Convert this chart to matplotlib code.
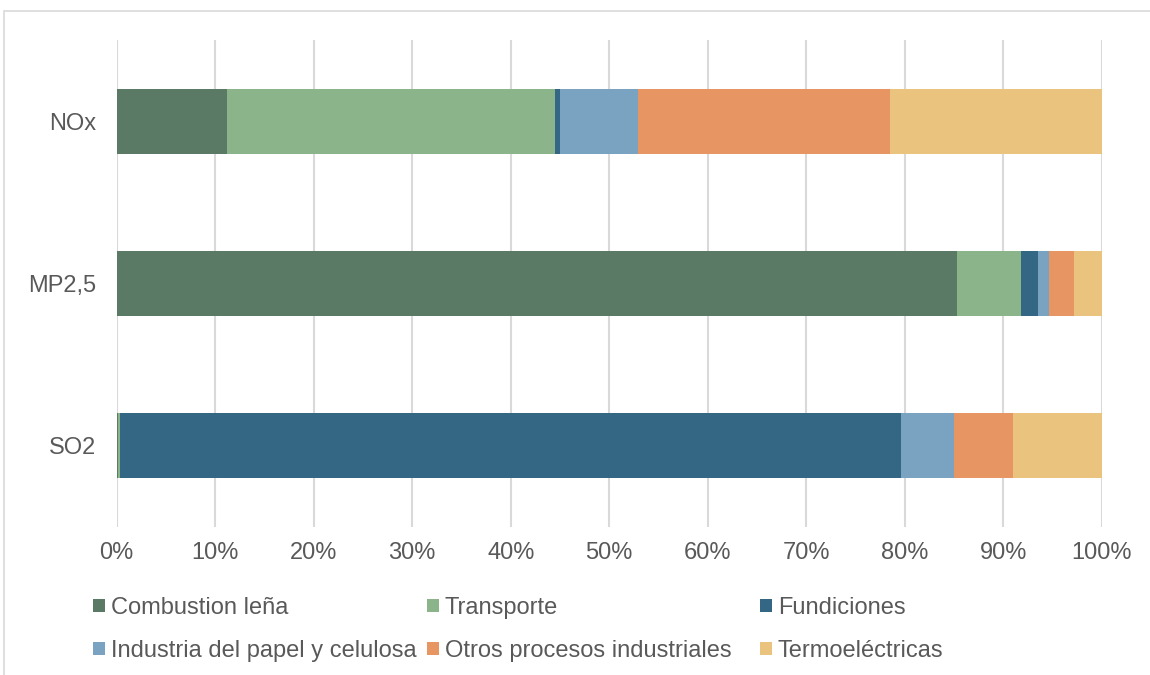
import numpy as np
import matplotlib
matplotlib.use("Agg")
import matplotlib.pyplot as plt
from matplotlib.patches import Patch, Rectangle

# categories bottom -> top
categories = ["SO2", "MP2,5", "NOx"]
sources = ["Combustion leña", "Transporte", "Fundiciones",
           "Industria del papel y celulosa", "Otros procesos industriales",
           "Termoeléctricas"]
# shares (%) per source, in category order SO2, MP2,5, NOx
combustion = [0.1, 85.3, 11.2]
transporte = [0.24, 6.5, 33.3]
fundiciones = [79.26, 1.7, 0.5]
papel = [5.4, 1.1, 7.9]
otros = [6.0, 2.6, 25.6]
termo = [9.0, 2.8, 21.5]
colors = ["#5a7a66", "#8bb48a", "#336783", "#7aa2c1", "#e69563", "#eac47e"]

plt.rcParams["font.family"] = ["Liberation Sans", "DejaVu Sans"]
txt = "#595959"
fs = 17

fig = plt.figure(figsize=(11.5, 6.75), dpi=100)
ax = fig.add_axes([0.1015, 0.2193, 0.8565, 0.7214])

series = [combustion, transporte, fundiciones, papel, otros, termo]
y = np.arange(len(categories))
left = np.zeros(len(categories))
for vals, col in zip(series, colors):
    v = np.array(vals)
    ax.barh(y, v, left=left, height=0.4, color=col, zorder=3)
    left += v

ax.set_xlim(0, 100)
ax.set_ylim(-0.5, 2.5)
ax.set_xticks(np.arange(0, 101, 10))
ax.set_xticklabels([f"{t}%" for t in range(0, 101, 10)])
ax.set_yticks(y)
ax.set_yticklabels(categories)
ax.tick_params(axis="both", length=0, labelsize=fs, labelcolor=txt)
ax.tick_params(axis="y", pad=15)
ax.tick_params(axis="x", pad=11)
ax.grid(axis="x", color="#d9d9d9", lw=1.5, zorder=0)
for s in ax.spines.values():
    s.set_visible(False)

# chart frame (extends past right/bottom edge)
fig.patches.append(Rectangle((4 / 1150, -0.1), 1.2, 1.1 - 11 / 675,
                             transform=fig.transFigure, fill=False,
                             edgecolor="#d9d9d9", lw=1.2))

# legend: three columns of equal width, entries row-wise
col_x = [93 / 1150, 427 / 1150, 760 / 1150]
for c in range(3):
    idx = [c, c + 3]
    handles = [Patch(facecolor=colors[i], edgecolor="none") for i in idx]
    fig.legend(handles, [sources[i] for i in idx], loc="upper left",
               bbox_to_anchor=(col_x[c], 1 - 597 / 675), frameon=False,
               fontsize=fs, labelcolor=txt, handlelength=0.5,
               handleheight=0.5, handletextpad=0.25, labelspacing=0.88,
               borderpad=0, borderaxespad=0)

fig.savefig("out.png", dpi=100)
